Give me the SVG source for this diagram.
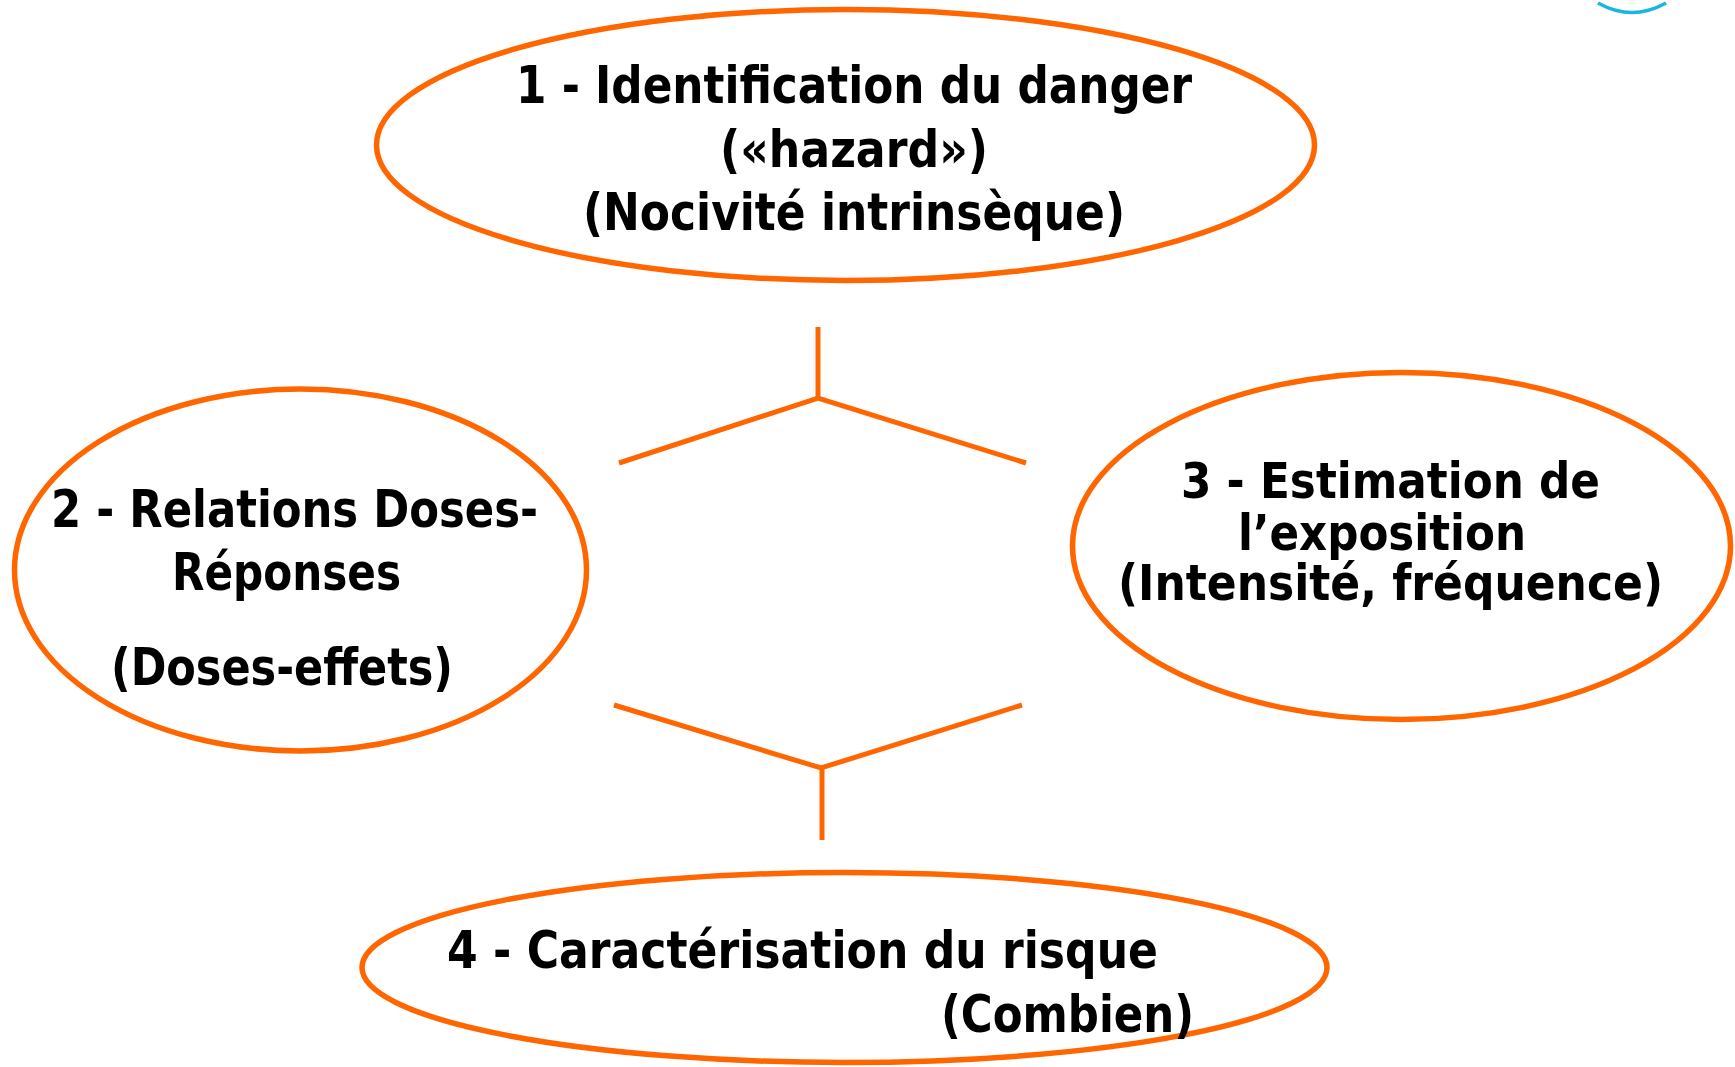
<svg xmlns="http://www.w3.org/2000/svg" width="1735" height="1067" viewBox="0 0 1735 1067">
<style>
.node ellipse{fill:#fff;stroke:#FF6600;stroke-width:5.5}
.conn line,.conn polyline{fill:none;stroke:#FF6600;stroke-width:5;stroke-linejoin:miter}
text{font-family:"DejaVu Sans Condensed","DejaVu Sans",sans-serif;font-weight:bold;font-size:52px;fill:#000}
#n3 text{font-size:49px}
</style>
<rect width="1735" height="1067" fill="#fff"/>
<path d="M1598,3 Q1632,22 1666,3" fill="none" stroke="#1cb4e0" stroke-width="3.5"/>
<g id="n1" class="node">
<ellipse cx="845.5" cy="145" rx="469" ry="135.5"/>
<text x="516" y="103" textLength="676" lengthAdjust="spacingAndGlyphs">1 - Identification du danger</text>
<text x="720" y="167" textLength="268" lengthAdjust="spacingAndGlyphs">(«hazard»)</text>
<text x="583" y="230" textLength="542" lengthAdjust="spacingAndGlyphs">(Nocivité intrinsèque)</text>
</g>
<g id="n2" class="node">
<ellipse cx="300.5" cy="570" rx="286" ry="181"/>
<text x="51" y="527" textLength="487" lengthAdjust="spacingAndGlyphs">2 - Relations Doses-</text>
<text x="172" y="590" textLength="229" lengthAdjust="spacingAndGlyphs">Réponses</text>
<text x="111" y="685" textLength="342" lengthAdjust="spacingAndGlyphs">(Doses-effets)</text>
</g>
<g id="n3" class="node">
<ellipse cx="1401.5" cy="546" rx="329" ry="173.5"/>
<text x="1181" y="498" textLength="419" lengthAdjust="spacingAndGlyphs">3 - Estimation de</text>
<text x="1238" y="550" textLength="288" lengthAdjust="spacingAndGlyphs">l’exposition</text>
<text x="1118" y="600" textLength="545" lengthAdjust="spacingAndGlyphs">(Intensité, fréquence)</text>
</g>
<g id="n4" class="node">
<ellipse cx="844.5" cy="967.5" rx="482.5" ry="95"/>
<text x="447" y="968" textLength="711" lengthAdjust="spacingAndGlyphs">4 - Caractérisation du risque</text>
<text x="941" y="1032" textLength="253" lengthAdjust="spacingAndGlyphs">(Combien)</text>
</g>
<g id="connectors" class="conn">
<line x1="818" y1="327" x2="818" y2="398"/>
<polyline points="619,463 818,398 1026,463"/>
<polyline points="614,705 821,768 1022,705"/>
<line x1="822" y1="768" x2="822" y2="840"/>
</g>
</svg>
